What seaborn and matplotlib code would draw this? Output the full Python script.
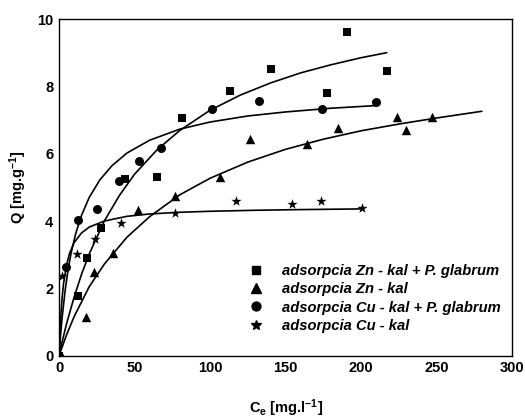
import seaborn as sns
import matplotlib.pyplot as plt
from matplotlib.lines import Line2D
from matplotlib.ticker import MultipleLocator

# measured points (C_e in mg/l, Q in mg/g)
zn_pg_c = [0, 12.4, 18.8, 27.9, 43.8, 65.0, 81.4, 113.0, 140.7, 177.6, 190.7, 217.2]
zn_pg_q = [0, 1.78, 2.90, 3.78, 5.24, 5.30, 7.07, 7.87, 8.51, 7.80, 9.60, 8.45]

zn_c = [0, 17.7, 23.4, 35.6, 52.6, 77.0, 106.8, 126.7, 163.9, 184.9, 223.6, 229.8, 246.8]
zn_q = [0, 1.16, 2.48, 3.04, 4.33, 4.74, 5.30, 6.43, 6.29, 6.75, 7.08, 6.70, 7.08]

cu_pg_c = [0, 4.6, 12.8, 25.0, 39.8, 53.1, 67.5, 101.3, 132.7, 174.0, 210.0]
cu_pg_q = [0, 2.64, 4.03, 4.35, 5.20, 5.79, 6.18, 7.32, 7.57, 7.33, 7.54]

cu_c = [0, 2.2, 11.7, 23.9, 41.1, 77.0, 117.2, 154.0, 173.4, 200.4]
cu_q = [0, 2.37, 3.02, 3.48, 3.93, 4.25, 4.59, 4.50, 4.60, 4.38]

# fitted isotherm curves
fit_zn_pg_c = [0, 2, 5, 10, 15, 20, 30, 40, 50, 65, 80, 100, 120, 140, 160, 180, 200, 217]
fit_zn_pg_q = [0, 0.40, 0.95, 1.74, 2.43, 3.02, 4.00, 4.76, 5.39, 6.12, 6.69, 7.29,
               7.74, 8.10, 8.40, 8.64, 8.85, 9.00]

fit_zn_c = [0, 5, 10, 20, 30, 45, 60, 80, 100, 125, 150, 175, 200, 225, 250, 280]
fit_zn_q = [0, 0.62, 1.16, 2.05, 2.72, 3.52, 4.13, 4.78, 5.27, 5.75, 6.13, 6.43,
            6.68, 6.88, 7.06, 7.26]

fit_cu_pg_c = [0, 1, 2, 4, 6, 8, 11, 15, 20, 27, 35, 45, 60, 80, 100, 125, 150, 180, 210]
fit_cu_pg_q = [0, 0.60, 1.10, 1.92, 2.55, 3.05, 3.62, 4.18, 4.70, 5.22, 5.64, 6.02,
               6.40, 6.73, 6.94, 7.12, 7.24, 7.35, 7.43]

fit_cu_c = [0, 0.5, 1, 2, 3, 5, 7, 10, 15, 20, 30, 45, 60, 80, 100, 130, 160, 200]
fit_cu_q = [0, 0.60, 1.05, 1.70, 2.14, 2.70, 3.04, 3.36, 3.65, 3.82, 4.00, 4.14,
            4.21, 4.26, 4.29, 4.32, 4.34, 4.36]

labels = ["adsorpcia Zn - kal + P. glabrum", "adsorpcia Zn - kal",
          "adsorpcia Cu - kal + P. glabrum", "adsorpcia Cu - kal"]

sns.set_theme(style="white")
plt.rcParams["font.family"] = ["Liberation Sans", "DejaVu Sans"]
plt.rcParams["mathtext.fontset"] = "custom"
plt.rcParams["mathtext.rm"] = "Liberation Sans:bold"
plt.rcParams["mathtext.default"] = "rm"
plt.rcParams["axes.edgecolor"] = "black"
plt.rcParams["text.color"] = "black"
plt.rcParams["axes.labelcolor"] = "black"

fig = plt.figure(figsize=(5.25, 4.18), dpi=100)
ax = fig.add_axes([0.1124, 0.149, 0.8629, 0.8055])

for c, q in [(fit_zn_pg_c, fit_zn_pg_q), (fit_zn_c, fit_zn_q),
             (fit_cu_pg_c, fit_cu_pg_q), (fit_cu_c, fit_cu_q)]:
    sns.lineplot(x=c, y=q, color="black", lw=1.2, sort=False, estimator=None, ax=ax)

sns.scatterplot(x=zn_pg_c, y=zn_pg_q, marker="s", s=30, color="black", linewidth=0, ax=ax, zorder=3)
sns.scatterplot(x=zn_c, y=zn_q, marker="^", s=46, color="black", linewidth=0, ax=ax, zorder=3)
sns.scatterplot(x=cu_pg_c, y=cu_pg_q, marker="o", s=42, color="black", linewidth=0, ax=ax, zorder=3)
sns.scatterplot(x=cu_c, y=cu_q, marker="*", s=60, color="black", linewidth=0, ax=ax, zorder=3)

ax.set_xlim(0, 300)
ax.set_ylim(0, 10)
ax.xaxis.set_major_locator(MultipleLocator(50))
ax.xaxis.set_minor_locator(MultipleLocator(25))
ax.yaxis.set_major_locator(MultipleLocator(2))
ax.yaxis.set_minor_locator(MultipleLocator(1))
ax.tick_params(which="both", direction="in", top=False, right=False, width=1.0,
               labelsize=10.5, pad=4, colors="black")
ax.tick_params(which="major", length=5)
ax.tick_params(which="minor", length=3)
for lab in ax.get_xticklabels() + ax.get_yticklabels():
    lab.set_fontweight("bold")
for sp in ax.spines.values():
    sp.set_linewidth(1.0)
    sp.set_color("black")

ax.set_xlabel("C$_{e}$ [mg.l$^{-1}$]", fontsize=10.5, fontweight="bold", labelpad=16)
ax.set_ylabel("Q [mg.g$^{-1}$]", fontsize=10.5, fontweight="bold", labelpad=6)

handles = [
    Line2D([], [], marker="s", ls="none", color="black", markersize=5.5),
    Line2D([], [], marker="^", ls="none", color="black", markersize=6.8),
    Line2D([], [], marker="o", ls="none", color="black", markersize=6.4),
    Line2D([], [], marker="*", ls="none", color="black", markersize=7.5),
]
ax.legend(handles, labels, loc="upper left", bbox_to_anchor=(0.4735, 0.369),
          bbox_transform=fig.transFigure, frameon=False, borderpad=0, borderaxespad=0,
          handlelength=1.0, handletextpad=1.25, labelspacing=0.3, labelcolor="black",
          prop={"weight": "bold", "style": "italic", "size": 10.6})

fig.savefig("out.png", dpi=100)
